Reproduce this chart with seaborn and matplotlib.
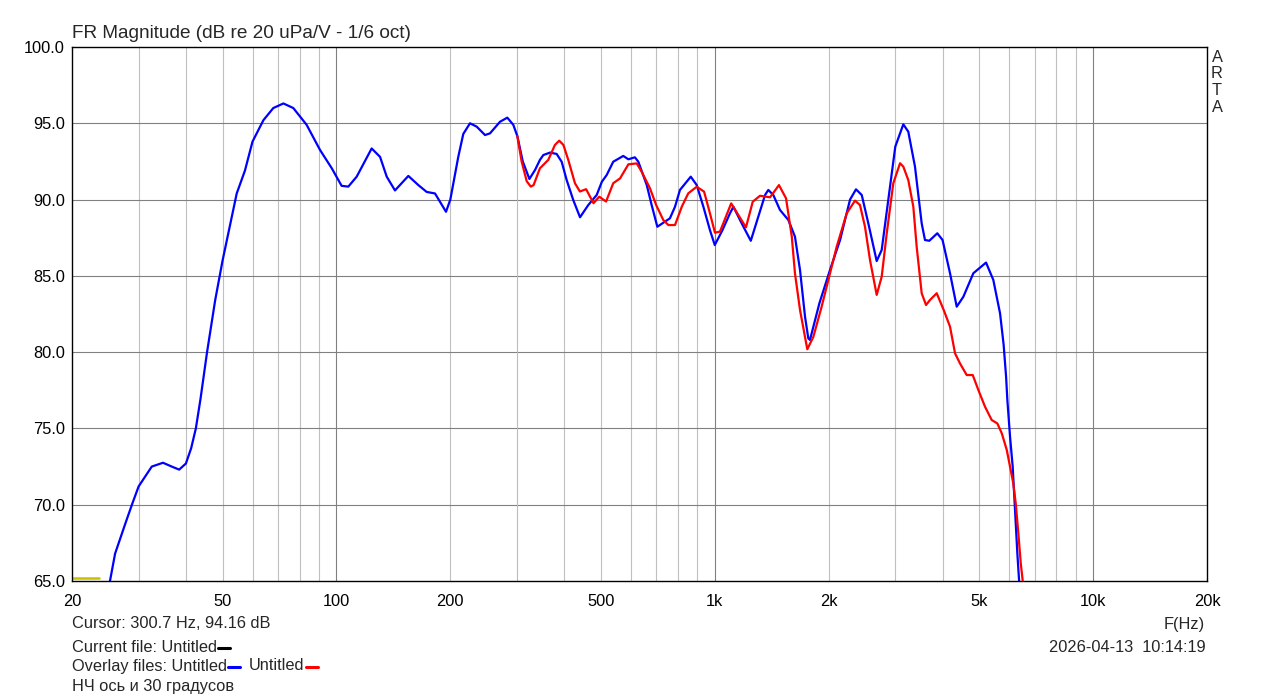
import numpy as np
import pandas as pd
import seaborn as sns
import matplotlib.pyplot as plt
from matplotlib.lines import Line2D
from matplotlib.ticker import FixedLocator, NullFormatter

# %% data (Hz, dB)
blue_freq = [25.2, 26.0, 27.7, 28.8, 30.0, 32.5, 34.8, 36.7, 38.4, 40.0, 41.3, 42.5, 43.7, 45.5, 47.8,
             50.0, 54.5, 57.3, 60.0, 64.1, 68.1, 72.4, 76.9, 83.4, 90.5, 97.2, 103.2, 107.5, 113.1,
             123.9, 130.4, 135.8, 142.8, 154.9, 164.6, 173.2, 182.2, 194.8, 200, 209.9, 216.4, 225.4,
             234.8, 247, 254.6, 270.6, 282.9, 293.4, 300.7, 310.8, 323.6, 334.9, 345, 352.3, 366.9,
             382, 393.8, 406, 422.6, 440.4, 463, 487.4, 503, 518, 539, 573, 591, 615, 628, 661, 681,
             705, 731, 761, 785, 809, 864, 896, 933, 971, 1000, 1048, 1097, 1120, 1178, 1245, 1303,
             1358, 1385, 1428, 1487, 1565, 1629, 1680, 1732, 1767, 1785, 1890, 2017, 2144, 2278,
             2362, 2446, 2546, 2679, 2762, 2876, 3000, 3150, 3247, 3382, 3523, 3594, 3690, 3874,
             4000, 4186, 4360, 4540, 4824, 5212, 5448, 5676, 5800, 5888, 5934, 6032, 6130, 6218,
             6306, 6372, 6400]
blue_db = [65.0, 66.8, 68.8, 70.0, 71.2, 72.5, 72.75, 72.5, 72.3, 72.7, 73.7, 75.0, 76.9, 80.0, 83.4,
           86.0, 90.4, 91.9, 93.8, 95.2, 96.0, 96.3, 96.0, 94.9, 93.25, 92.05, 90.9, 90.85, 91.5,
           93.35, 92.8, 91.5, 90.6, 91.55, 90.95, 90.5, 90.4, 89.2, 90.0, 92.8, 94.3, 95.0,
           94.78, 94.23, 94.34, 95.1, 95.37, 94.9, 94.16, 92.5, 91.35, 91.94, 92.6, 92.92, 93.08,
           92.99, 92.48, 91.28, 89.97, 88.84, 89.64, 90.3, 91.17, 91.61, 92.48, 92.86, 92.64, 92.77, 92.48, 90.95, 89.64,
           88.22, 88.48, 88.77, 89.53, 90.63, 91.5, 90.95, 89.53, 88.0, 87.02, 88.0, 89.1, 89.53, 88.44, 87.3, 88.88,
           90.3, 90.63, 90.3, 89.32, 88.66, 87.57, 85.38, 82.32, 80.9, 80.8, 83.2, 85.4, 87.35, 90.0,
           90.67, 90.3, 88.44, 85.97, 86.7, 90.0, 93.47, 94.93, 94.45, 92.16, 88.44, 87.35, 87.3, 87.79,
           87.35, 85.17, 82.98, 83.63, 85.17, 85.87, 84.73, 82.54, 80.5, 78.39, 76.86, 74.45, 72.49, 69.65,
           66.8, 65.06, 64.5]

red_freq = [300.7, 308.6, 318.4, 326.3, 332, 345, 363, 378, 388, 398, 410, 427, 440, 457, 478, 495,
            516, 539, 562, 591, 622, 641, 674, 700, 731, 754, 785, 818, 851, 896, 937, 971, 1001,
            1032, 1053, 1105, 1154, 1209, 1260, 1317, 1400, 1478, 1543, 1598, 1629, 1680, 1756,
            1822, 1917, 1990, 2100, 2232, 2348, 2420, 2495, 2572, 2679, 2762, 2848, 2964, 3088,
            3150, 3247, 3348, 3417, 3523, 3617, 3706, 3860, 4030, 4186, 4316, 4448, 4633, 4806,
            4974, 5180, 5395, 5582, 5736, 5912, 6032, 6152, 6244, 6344, 6438, 6516]
red_db = [94.16, 92.5, 91.2, 90.85, 90.95, 92.05, 92.6, 93.58, 93.86, 93.58, 92.6, 91.07, 90.53, 90.68, 89.76, 90.19,
          89.87, 91.07, 91.39, 92.31, 92.37, 91.82, 90.74, 89.64, 88.66, 88.33, 88.33, 89.53, 90.41, 90.84, 90.52, 89.1, 87.83,
          87.9, 88.44, 89.75, 88.99, 88.18, 89.86, 90.25, 90.15, 90.95, 90.08, 87.57, 85.17, 82.76, 80.19,
          81.0, 83.0, 84.6, 86.91, 89.1, 89.93, 89.64, 88.22, 86.04, 83.75, 84.95, 87.79, 91.07, 92.38,
          92.16, 91.28, 89.53, 86.91, 83.86, 83.09, 83.42, 83.86, 82.75, 81.67, 79.92, 79.26, 78.5, 78.5,
          77.52, 76.42, 75.55, 75.33, 74.68, 73.59, 72.49, 71.4, 70.09, 68.13, 66.16, 65.0]

current_freq = [20, 23.6]
current_db = [65.2, 65.2]
cursor_freq = 300.7

x_ticks = [20, 50, 100, 200, 500, 1000, 2000, 5000, 10000, 20000]
x_labels = ['20', '50', '100', '200', '500', '1k', '2k', '5k', '10k', '20k']
y_ticks = [65, 70, 75, 80, 85, 90, 95, 100]

df_blue = pd.DataFrame({'freq': blue_freq, 'db': blue_db})
df_red = pd.DataFrame({'freq': red_freq, 'db': red_db})
df_cur = pd.DataFrame({'freq': current_freq, 'db': current_db})

# %% figure
sns.set_style('white')
plt.rcParams['font.family'] = ['Liberation Sans', 'DejaVu Sans']
W, H = 1279, 699
fig = plt.figure(figsize=(W / 100, H / 100), dpi=100)
ax = fig.add_axes([72 / W, 1 - 581 / H, (1207 - 72) / W, (581 - 47) / H])
ax.set_xscale('log')
ax.set_xlim(20, 20000)
ax.set_ylim(65, 100)

# grid
minor = [f for d in [10, 100, 1000, 10000] for f in np.arange(2, 10) * d if 20 < f < 20000]
for f in minor:
    ax.axvline(f, color='#c0c0c0', lw=0.8, zorder=0)
for f in [100, 1000, 10000]:
    ax.axvline(f, color='#808080', lw=0.8, zorder=0)
for v in y_ticks[1:-1]:
    ax.axhline(v, color='#808080', lw=0.8, zorder=0)
ax.axvline(cursor_freq, color='#d4d400', lw=0.7, zorder=1)

sns.lineplot(data=df_cur, x='freq', y='db', color='#c8c000', lw=1.8, ax=ax, estimator=None, sort=False)
sns.lineplot(data=df_red, x='freq', y='db', color='#ff0000', lw=1.6, ax=ax, estimator=None, sort=False, zorder=3)
sns.lineplot(data=df_blue, x='freq', y='db', color='#0000ff', lw=1.6, ax=ax, estimator=None, sort=False, zorder=2)

ax.set_xlabel('')
ax.set_ylabel('')
ax.xaxis.set_major_locator(FixedLocator(x_ticks))
ax.set_xticklabels(x_labels)
ax.xaxis.set_minor_formatter(NullFormatter())
ax.set_yticks(y_ticks)
ax.set_yticklabels([f'{v:.1f}' for v in y_ticks])
ax.tick_params(axis='both', which='both', length=0, labelsize=11.8, colors='black')
ax.tick_params(axis='x', pad=9)
ax.tick_params(axis='y', pad=5)
for s in ax.spines.values():
    s.set_color('black')
    s.set_linewidth(1.0)


def ftext(x, y, s, **kw):
    return fig.text(x / W, 1 - y / H, s, va='center', **kw)


ftext(72, 33, 'FR Magnitude (dB re 20 uPa/V - 1/6 oct)', fontsize=13.7)
for i, ch in enumerate('ARTA'):
    ftext(1217, 57 + i * 16.7, ch, fontsize=11.8, ha='center')

fs = 11.8
ftext(72, 624, 'Cursor: 300.7 Hz, 94.16 dB', fontsize=fs)
t_cur = ftext(72, 647, 'Current file: Untitled', fontsize=fs)
t_ov = ftext(72, 666, 'Overlay files: Untitled', fontsize=fs)
ftext(72, 686, 'НЧ ось и 30 градусов', fontsize=fs)
ftext(1205, 624, 'F(Hz)', fontsize=fs, ha='right')
ftext(1206, 647, '2026-04-13  10:14:19', fontsize=fs, ha='right')

fig.canvas.draw()
r = fig.canvas.get_renderer()


def dash(after, color, y):
    x0 = after.get_window_extent(r).x1 + 1
    fig.add_artist(Line2D([x0 / W, (x0 + 12) / W], [1 - y / H, 1 - y / H], color=color, lw=2.2))
    return x0 + 12


dash(t_cur, 'black', 648)
xe = dash(t_ov, '#0000ff', 667)
t_ov2 = ftext(xe + 9, 666, 'Untitled', fontsize=fs)
fig.canvas.draw()
dash(t_ov2, '#ff0000', 667)

plt.savefig('out.png', dpi=100)
